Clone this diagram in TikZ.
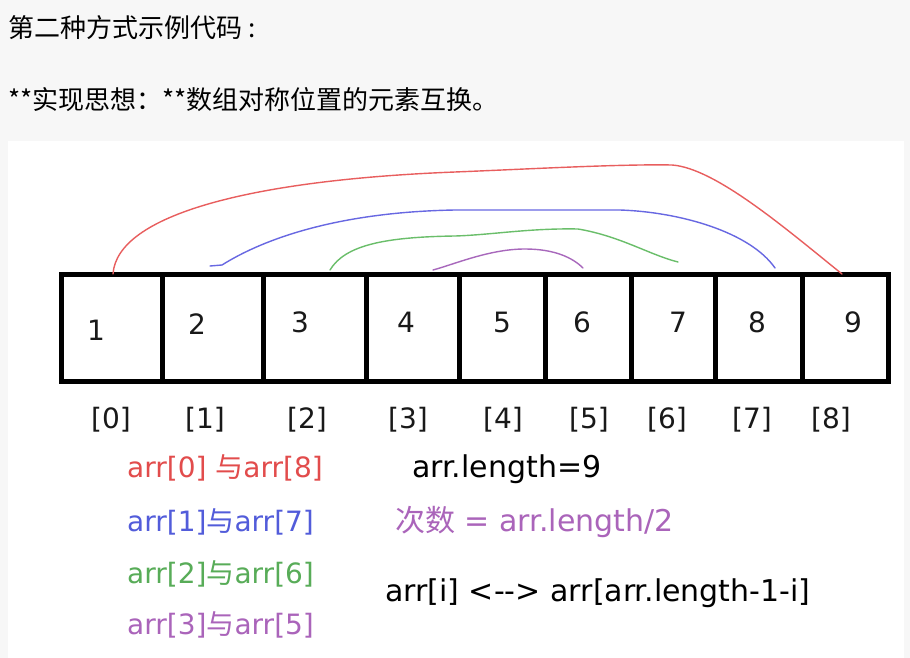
\documentclass[tikz,border=0pt]{standalone}
\usepackage{fontspec}
\setmainfont{DejaVu Sans}
\newfontfamily\cjk{Noto Sans CJK SC}
\usepackage{tikz}
\usepackage{xcolor}
\definecolor{pagegray}{RGB}{247,247,247}
\definecolor{swapred}{RGB}{232,94,94}
\definecolor{swapblue}{RGB}{104,104,226}
\definecolor{swapgreen}{RGB}{106,190,106}
\definecolor{swappurple}{RGB}{168,104,188}
\definecolor{pairred}{RGB}{226,76,76}
\definecolor{pairblue}{RGB}{82,92,218}
\definecolor{pairgreen}{RGB}{88,172,88}
\definecolor{pairpurple}{RGB}{170,100,186}

\begin{document}
\begin{tikzpicture}[
    x=1pt, y=-1pt,
    cell/.style={draw=black, line width=5pt, inner sep=0pt, outer sep=0pt, minimum height=107pt},
    digit/.style={font=\fontsize{28}{32}\selectfont, text=black!90, inner sep=0pt},
    index/.style={font=\fontsize{28}{32}\selectfont, text=black!90, inner sep=0pt},
    pair/.style={font=\fontsize{28}{32}\selectfont, anchor=west, inner sep=0pt},
    note/.style={font=\fontsize{30}{34}\selectfont, anchor=west, inner sep=0pt},
    head/.style={font=\cjk\fontsize{26}{30}\selectfont, anchor=west, inner sep=0pt},
    arc/.style={line width=1.4pt, line cap=round, line join=round}
]
\fill[pagegray] (0,0) rectangle (910,658);
\fill[white] (8,141) rectangle (904,658);
\useasboundingbox (0,0) rectangle (910,658);

\node[head] (title) at (8,28) {第二种方式示例代码\hspace{6pt}:};
\node[head] (idea) at (8,100) {**实现思想：**数组对称位置的元素互换。};

\node[cell, minimum width=101pt] (c0) at (111.5,327.5) {};
\node[cell, minimum width=101pt] (c1) at (212.5,327.5) {};
\node[cell, minimum width=103pt] (c2) at (314.5,327.5) {};
\node[cell, minimum width=93pt] (c3) at (412.5,327.5) {};
\node[cell, minimum width=86pt] (c4) at (502,327.5) {};
\node[cell, minimum width=86pt] (c5) at (588,327.5) {};
\node[cell, minimum width=84pt] (c6) at (673,327.5) {};
\node[cell, minimum width=87pt] (c7) at (758.5,327.5) {};
\node[cell, minimum width=86pt] (c8) at (845,327.5) {};

\node[digit] (v1) at (96,330) {1}; \node[digit] (v2) at (197,324) {2};
\node[digit] (v3) at (300,322) {3}; \node[digit] (v4) at (406,322) {4};
\node[digit] (v5) at (502,322) {5}; \node[digit] (v6) at (582,322) {6};
\node[digit] (v7) at (678,322) {7}; \node[digit] (v8) at (757,322) {8};
\node[digit] (v9) at (853,322) {9};

\draw[arc, swapred] ([xshift=1.5pt]c0.north) .. controls (117,215) and (250,180) .. (455,172)
    .. controls (530,169) and (620,164) .. (672,165)
    .. controls (715,168) and (785,228) .. ([xshift=-3pt]c8.north);
\draw[arc, swapblue] ([shift={(-2.5,-8)}]c1.north) -- (222,265)
    .. controls (265,238) and (340,212) .. (455,210) -- (620,210)
    .. controls (680,212) and (750,232) .. ([shift={(16.5,-6)}]c7.north);
\draw[arc, swapgreen] ([shift={(15.5,-4)}]c2.north) .. controls (345,245) and (385,237) .. (455,236)
    .. controls (490,235) and (530,228) .. (578,229)
    .. controls (620,236) and (650,255) .. ([shift={(5,-12)}]c6.north);
\draw[arc, swappurple] ([shift={(20.5,-4)}]c3.north) .. controls (455,264) and (490,249) .. (525,249)
    .. controls (555,249) and (573,258) .. ([shift={(-5,-6)}]c5.north);

\node[index] (i0) at (111,420) {[0]}; \node[index] (i1) at (205,420) {[1]};
\node[index] (i2) at (307,420) {[2]}; \node[index] (i3) at (408,420) {[3]};
\node[index] (i4) at (503,420) {[4]}; \node[index] (i5) at (589,420) {[5]};
\node[index] (i6) at (667,420) {[6]}; \node[index] (i7) at (752,420) {[7]};
\node[index] (i8) at (831,420) {[8]};

\node[pair, text=pairred] (p0) at (127,468) {arr[0] {\cjk 与}arr[8]};
\node[pair, text=pairblue] (p1) at (127,522) {arr[1]{\cjk 与}arr[7]};
\node[pair, text=pairgreen] (p2) at (127,574) {arr[2]{\cjk 与}arr[6]};
\node[pair, text=pairpurple] (p3) at (127,625) {arr[3]{\cjk 与}arr[5]};

\node[note] (len) at (412,469) {arr.length=9};
\node[note, text=pairpurple] (times) at (395,522) {{\cjk 次数} = arr.length/2};
\node[note] (rule) at (385,593) {arr[i] <-{}-{}> arr[arr.length-1-i]};
\end{tikzpicture}
\end{document}
